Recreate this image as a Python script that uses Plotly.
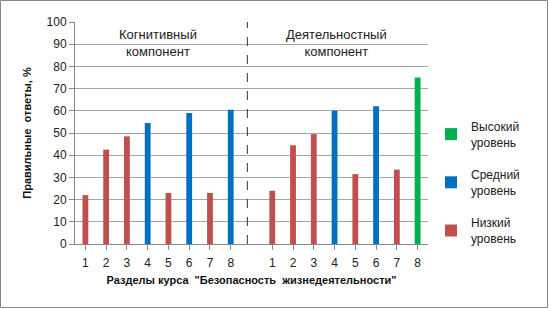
import plotly.graph_objects as go

# ---- data ----
sections = ["1", "2", "3", "4", "5", "6", "7", "8"]
cognitive_values = [22, 42.5, 48.5, 54.5, 23, 59, 23, 60.5]
cognitive_levels = ["low", "low", "low", "mid", "low", "mid", "low", "mid"]
activity_values = [24, 44.5, 49.5, 60, 31.5, 62, 33.5, 75]
activity_levels = ["low", "low", "low", "mid", "low", "mid", "low", "high"]
level_names = {"high": "Высокий<br>уровень", "mid": "Средний<br>уровень", "low": "Низкий<br>уровень"}
level_colors = {"high": "#00B050", "mid": "#0070C0", "low": "#C0504D"}
group_titles = ["Когнитивный<br>компонент", "Деятельностный<br>компонент"]
y_ticks = list(range(0, 101, 10))

# category slots: 8 cognitive, one empty, 8 activity
cog_pos = list(range(len(sections)))
act_pos = [len(sections) + 1 + i for i in range(len(sections))]
all_pos = cog_pos + act_pos
all_vals = cognitive_values + activity_values
all_lvls = cognitive_levels + activity_levels
tick_text = sections + sections

W, H = 549, 309
ML, MR, MT, MB = 75, 121, 22, 65
PW, PH = W - ML - MR, H - MT - MB

FONT = "Liberation Sans, Arial, sans-serif"

fig = go.Figure()
for lvl in ["high", "mid", "low"]:
    xs = [p for p, l in zip(all_pos, all_lvls) if l == lvl]
    ys = [v for v, l in zip(all_vals, all_lvls) if l == lvl]
    fig.add_trace(go.Bar(
        x=xs, y=ys, name=level_names[lvl], legendgroup=lvl,
        marker=dict(color=level_colors[lvl], line=dict(width=0)),
        width=0.28,
    ))

def px_x(px):
    return (px - ML) / PW

def px_y(py):
    return (H - MB - py) / PH

shapes = [
    dict(type="line", xref="x", yref="y", x0=7.8, x1=7.8, y0=0, y1=101,
         line=dict(color="#333333", width=1, dash="dash")),
    dict(type="rect", xref="paper", yref="paper",
         x0=px_x(0.5), x1=px_x(W - 1.5), y0=px_y(H - 1.5), y1=px_y(0.5),
         line=dict(color="#868686", width=1)),
]

annotations = [
    dict(x=3.5, y=90.5, xref="x", yref="y", text=group_titles[0], showarrow=False,
         font=dict(size=13, color="#222222", family=FONT), align="center"),
    dict(x=12.1, y=90.5, xref="x", yref="y", text=group_titles[1], showarrow=False,
         font=dict(size=13, color="#222222", family=FONT), align="center"),
]

fig.update_layout(
    width=W, height=H,
    margin=dict(l=ML, r=MR, t=MT, b=MB),
    paper_bgcolor="white", plot_bgcolor="white",
    font=dict(family=FONT, size=12, color="#222222"),
    barmode="overlay",
    showlegend=True,
    legend=dict(x=px_x(431), y=px_y(112), xanchor="left", yanchor="top",
                traceorder="grouped", tracegroupgap=14,
                font=dict(size=12, color="#222222"), itemwidth=30,
                bgcolor="rgba(0,0,0,0)"),
    xaxis=dict(range=[-0.5, 16.5], tickmode="array", tickvals=all_pos, ticktext=tick_text,
               showgrid=False, zeroline=False, showline=True, linecolor="#888888",
               ticks="outside", ticklen=5, tickcolor="#888888",
               tickfont=dict(size=12, color="#222222"), ticklabelstandoff=3,
               title=dict(text='<b>Разделы курса  "Безопасность  жизнедеятельности"</b>',
                          font=dict(size=11, color="#111111"), standoff=6)),
    yaxis=dict(range=[0, 100], tickmode="array", tickvals=y_ticks,
               showgrid=True, gridcolor="#a6a6a6", gridwidth=1.3, zeroline=False,
               showline=True, linecolor="#888888", ticks="outside", ticklen=5,
               tickcolor="#888888", tickfont=dict(size=12, color="#222222"),
               title=dict(text="<b>Правильные  ответы, %</b>",
                          font=dict(size=11, color="#111111"), standoff=12)),
    shapes=shapes,
    annotations=annotations,
)

fig.write_html("out.html", config={"displayModeBar": False},
               post_script="document.body.style.margin='0';")
